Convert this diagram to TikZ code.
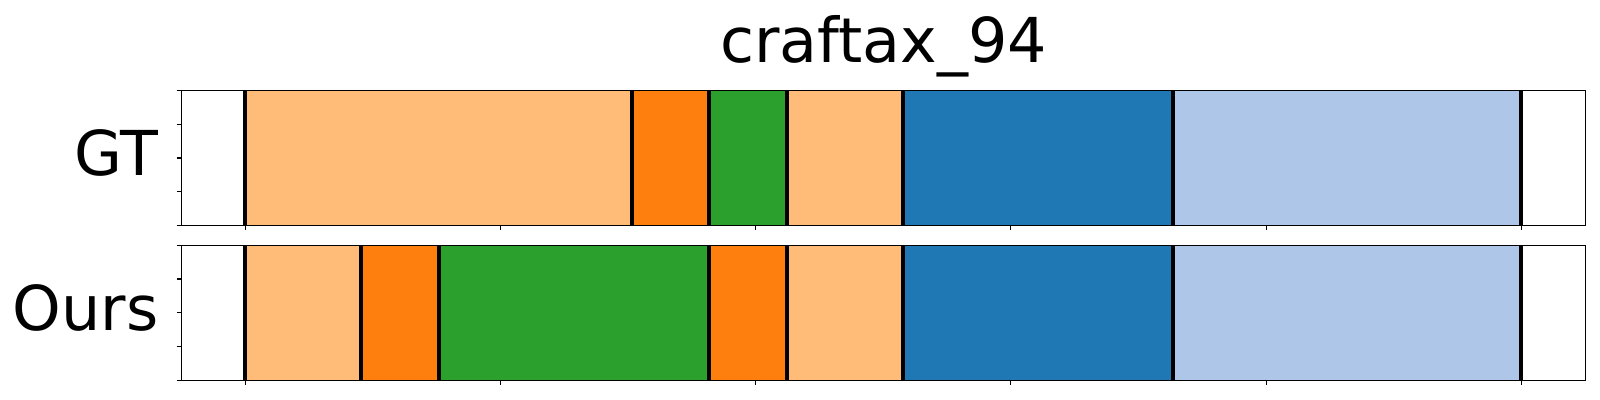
\documentclass[tikz,border=0pt]{standalone}
\usepackage{fontspec}
\setmainfont{DejaVu Sans}
\definecolor{lorange}{HTML}{FFBB78}
\definecolor{dorange}{HTML}{FF7F0E}
\definecolor{dgreen}{HTML}{2CA02C}
\definecolor{dblue}{HTML}{1F77B4}
\definecolor{lblue}{HTML}{AEC7E8}
\tikzset{
    seg/.style={draw=black, line width=0.3pt},
    sep/.style={line width=1.15pt},
    frame/.style={line width=0.4pt},
    tick/.style={line width=0.3pt},
    lab/.style={font=\fontsize{17.6}{20}\selectfont, inner sep=0pt}
}
\begin{document}
\begin{tikzpicture}[x=0.01cm, y=-0.01cm]
        \useasboundingbox (0,0) rectangle (1600,400);

        % GT panel
        \foreach \a/\b/\c in {245.3/632/lorange, 632/708.7/dorange, 708.7/787/dgreen,
                              787/903/lorange, 903/1172.7/dblue, 1172.7/1521/lblue}
            \path[seg, fill=\c] (\a,90.7) rectangle (\b,225.3);
        \foreach \a in {245.3, 632, 708.7, 787, 903, 1172.7, 1521}
            \draw[sep] (\a,90.7) -- (\a,225.3);
        \path[draw, frame] (181.7,90.7) rectangle (1585.7,225.3); % Ramme

        % Ours panel
        \foreach \a/\b/\c in {245.3/361/lorange, 361/438.7/dorange, 438.7/708.7/dgreen,
                              708.7/787/dorange, 787/903/lorange, 903/1172.7/dblue, 1172.7/1521/lblue}
            \path[seg, fill=\c] (\a,245.3) rectangle (\b,380.3);
        \foreach \a in {245.3, 361, 438.7, 708.7, 787, 903, 1172.7, 1521}
            \draw[sep] (\a,245.3) -- (\a,380.3);
        \path[draw, frame] (181.7,245.3) rectangle (1585.7,380.3); % Ramme

        % Ticks
        \foreach \y in {90.7, 124.3, 158, 191.6, 225.3, 245.3, 279, 312.8, 346.5, 380.3}
            \draw[tick] (176.7,\y) -- (181.7,\y);
        \foreach \x in {245.3, 500.5, 755.7, 1010.9, 1266.1, 1521.3} {
            \draw[tick] (\x,225.3) -- (\x,230.3);
            \draw[tick] (\x,380.3) -- (\x,385.3);
        }

        \node[lab, anchor=base] (title) at (883.7,62.7) {craftax\_94};
        \node[lab, anchor=base east] (gt) at (159,175) {GT};
        \node[lab, anchor=base east] (ours) at (159,330) {Ours};
    \end{tikzpicture}
\end{document}
